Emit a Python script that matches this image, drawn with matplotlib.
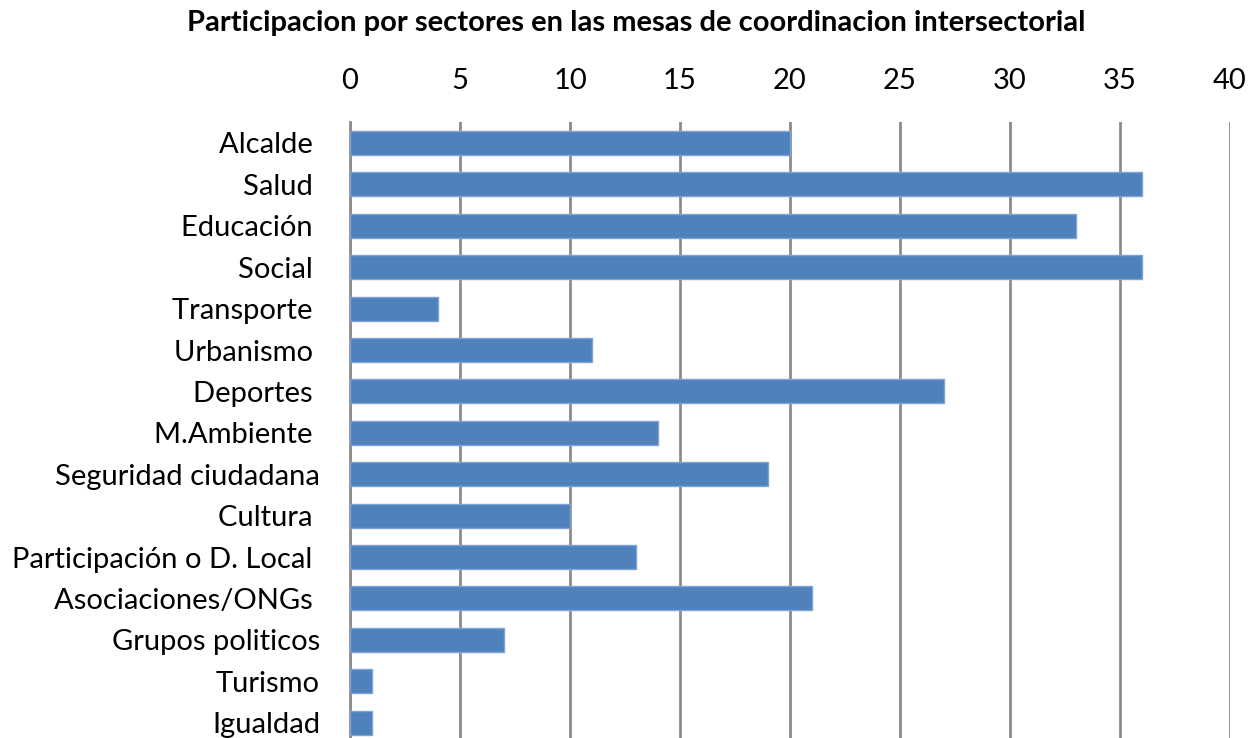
import numpy as np
import matplotlib.pyplot as plt

plt.rcParams['font.family'] = ['Lato', 'DejaVu Sans']

# sectores y numero de mesas con participacion
sectores = ["Alcalde ", "Salud ", "Educación ", "Social ", "Transporte ",
            "Urbanismo ", "Deportes ", "M.Ambiente ", "Seguridad ciudadana",
            "Cultura ", "Participación o D. Local ", "Asociaciones/ONGs ",
            "Grupos politicos", "Turismo", "Igualdad"]
participacion = [20, 36, 33, 36, 4, 11, 27, 14, 19, 10, 13, 21, 7, 1, 1]
ticks_x = [0, 5, 10, 15, 20, 25, 30, 35, 40]

fig = plt.figure(figsize=(12.5, 7.38), dpi=100)
ax = fig.add_axes([0.28, -0.0073, 0.704, 0.8416])

pos = np.arange(len(sectores))
ax.barh(pos, participacion, height=0.58, color='#4f81bd',
        edgecolor='#7ea3d3', linewidth=1, zorder=3)

ax.set_xlim(0, 40)
ax.set_ylim(len(sectores) - 0.5, -0.5)
ax.set_xticks(ticks_x)
ax.set_yticks(pos)
ax.set_yticklabels(sectores)

ax.xaxis.tick_top()
ax.tick_params(axis='x', length=0, pad=20.5, labelsize=21)
ax.tick_params(axis='y', length=0, pad=21.6, labelsize=21)

ax.grid(True, axis='x', color='#8c8c8c', linewidth=2, zorder=0)
for s in ['top', 'right', 'bottom']:
    ax.spines[s].set_visible(False)
ax.spines['left'].set_color('#8c8c8c')
ax.spines['left'].set_linewidth(2)

fig.text(0.509, 1 - 23 / 738, "Participacion por sectores en las mesas de coordinacion intersectorial",
         ha='center', va='center', fontsize=21, fontweight='bold')

fig.savefig("out.png", dpi=100)
